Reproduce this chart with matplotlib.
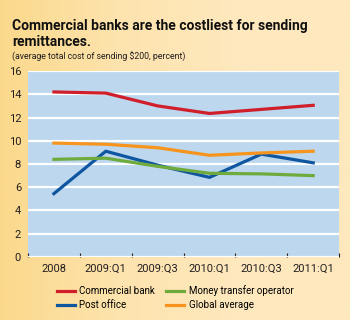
import matplotlib
matplotlib.use("Agg")
import matplotlib.pyplot as plt
from matplotlib.colors import LinearSegmentedColormap
import numpy as np

plt.rcParams['font.family'] = ['Roboto', 'DejaVu Sans']

periods = ["2008", "2009:Q1", "2009:Q3", "2010:Q1", "2010:Q3", "2011:Q1"]
commercial_bank = [14.2, 14.1, 13.0, 12.35, 12.7, 13.05]
money_transfer = [8.4, 8.5, 7.8, 7.2, 7.15, 7.0]
post_office = [5.45, 9.1, 7.9, 6.85, 8.85, 8.1]
global_average = [9.8, 9.7, 9.4, 8.75, 8.95, 9.1]

fig = plt.figure(figsize=(3.5, 3.2), dpi=100)

# background gradient
bg = fig.add_axes([0, 0, 1, 1], zorder=-10)
grad = np.linspace(0, 1, 256).reshape(1, -1)
cmap = LinearSegmentedColormap.from_list("bg", ["#fbd98c", "#fde3ad", "#fee8bd", "#fee8bd"])
bg.imshow(grad, aspect="auto", cmap=cmap, extent=[0, 1, 0, 1])
bg.set_axis_off()

ax = fig.add_axes([0.08, 0.197, 0.889, 0.581])
ax.set_facecolor("#bcd7ee")
x = np.arange(len(periods))
ax.plot(x, commercial_bank, color="#d01f2a", lw=2.3, label="Commercial bank")
ax.plot(x, post_office, color="#0f56a0", lw=2.3, label="Post office")
ax.plot(x, money_transfer, color="#6fab3c", lw=2.3, label="Money transfer operator")
ax.plot(x, global_average, color="#f7941d", lw=2.3, label="Global average")

ax.set_ylim(0, 16)
ax.set_xlim(-0.5, len(periods) - 0.5)
ax.set_yticks(range(0, 17, 2))
ax.set_xticks(x)
ax.set_xticklabels(periods, fontsize=8, color="#231f20")
ax.set_xticks(np.arange(-0.5, len(periods), 1), minor=True)
ax.tick_params(axis="x", which="major", length=0, pad=5)
ax.tick_params(axis="x", which="minor", direction="in", length=3, color="#231f20", width=0.8)
ax.tick_params(axis="y", length=0, labelsize=8, labelcolor="#231f20", pad=5)
ax.grid(axis="y", color="white", lw=1.6)
ax.set_axisbelow(True)
for s in ax.spines.values():
    s.set_visible(False)

fig.text(0.035, 0.94, "Commercial banks are the costliest for sending\nremittances.",
         fontsize=10, fontweight="bold", color="#111111", va="top", linespacing=1.15)
fig.text(0.035, 0.822, "(average total cost of sending $200, percent)", fontsize=6.3,
         color="#231f20", va="center")

handles, labels = ax.get_legend_handles_labels()
fig.legend(handles, labels, ncol=2, loc="center", bbox_to_anchor=(0.5, 0.07),
           frameon=False, fontsize=7, handlelength=1.9, columnspacing=1.1,
           handletextpad=0.45, labelspacing=0.4)

fig.savefig("out.png", dpi=100)
